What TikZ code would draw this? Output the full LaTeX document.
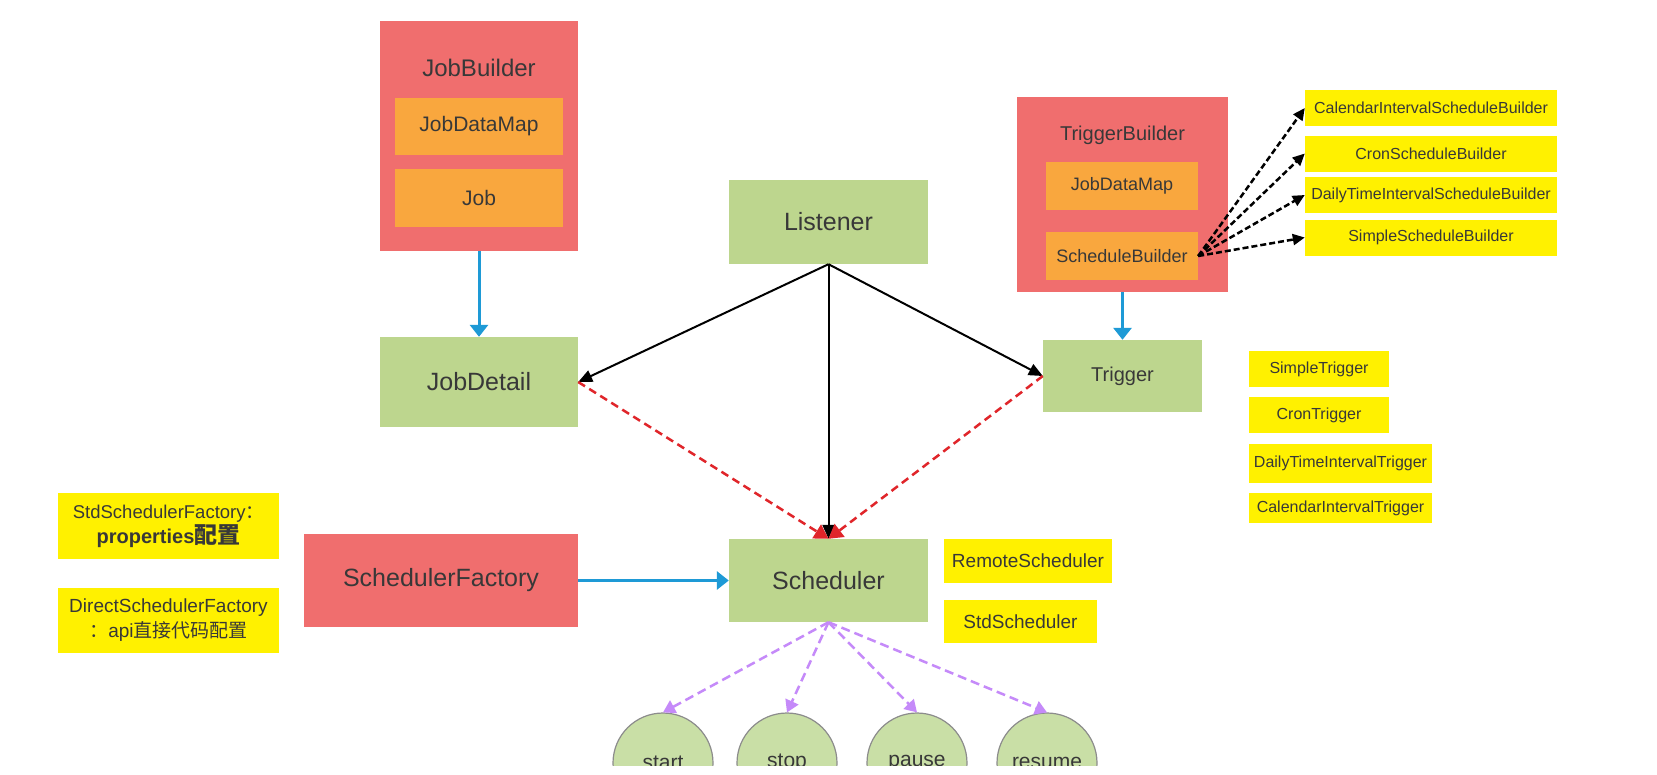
\documentclass[tikz,border=0pt]{standalone}
\usepackage{fontspec}
\setmainfont{Liberation Sans}
\newfontfamily\cjk{Noto Sans CJK SC}
\usetikzlibrary{arrows.meta}
\definecolor{boxred}{HTML}{F06E6E}
\definecolor{boxorange}{HTML}{F9A73E}
\definecolor{boxgreen}{HTML}{BDD68E}
\definecolor{circgreen}{HTML}{C9DFA6}
\definecolor{tagyellow}{HTML}{FFF100}
\definecolor{linkblue}{HTML}{1E9AD6}
\definecolor{linkred}{HTML}{E0252A}
\definecolor{linkpurple}{HTML}{C58AF9}
\definecolor{txt}{HTML}{383838}
\begin{document}
\begin{tikzpicture}[x=1pt, y=-1pt, line join=round,
		sz/.style={font=\fontsize{#1}{#1}\selectfont},
		holder/.style={fill=boxred, text=txt, inner sep=0pt},
		part/.style={fill=boxorange, text=txt, inner sep=0pt},
		core/.style={fill=boxgreen, text=txt, inner sep=0pt, sz=25pt},
		tag/.style={fill=tagyellow, text=txt, inner sep=0pt},
		act/.style={circle, draw=black!45, line width=1.2pt, fill=circgreen, text=txt, minimum size=100pt, inner sep=0pt, sz=21pt},
		flow/.style={draw=linkblue, line width=3pt, -{Triangle[length=12pt,width=18pt]}},
		listen/.style={draw=black, line width=2pt, -{Triangle[length=14pt,width=12pt]}},
		feed/.style={draw=linkred, line width=2.5pt, dash pattern=on 8pt off 5pt, -{Triangle[length=14pt,width=16pt]}},
		pick/.style={draw=black, line width=2.5pt, dash pattern=on 6pt off 3pt, -{Triangle[length=12pt,width=11pt]}},
		call/.style={draw=linkpurple, line width=2.5pt, dash pattern=on 9pt off 5pt, -{Triangle[length=12pt,width=14pt]}}]
		\fill[white] (0,0) rectangle (1657,774);
		\useasboundingbox (0,0) rectangle (1657,774);
		% job side
		\node[holder, minimum width=198pt, minimum height=230pt] (jobbuilder) at (479,136) {};
		\node[text=txt, sz=24pt] (jobbuildertitle) at (479,68) {JobBuilder};
		\node[part, minimum width=168pt, minimum height=57pt, sz=21pt] (jobdatamap) at (479,126.5) {JobDataMap};
		\node[part, minimum width=168pt, minimum height=58pt, sz=21pt] (job) at (479,198) {Job};
		\node[core, minimum width=198pt, minimum height=90pt] (jobdetail) at (479,382) {JobDetail};
		% centre
		\node[core, minimum width=199pt, minimum height=84pt] (listener) at (828.5,222) {Listener};
		\node[core, minimum width=199pt, minimum height=83pt] (scheduler) at (828.5,580.5) {Scheduler};
		\node[holder, minimum width=274pt, minimum height=93pt, sz=25pt] (schedfactory) at (441,580.5) {SchedulerFactory};
		\node[tag, minimum width=168pt, minimum height=44pt, sz=19pt] (remotesched) at (1028,561) {RemoteScheduler};
		\node[tag, minimum width=153pt, minimum height=43pt, sz=19pt] (stdsched) at (1020.5,621.5) {StdScheduler};
		% trigger side
		\node[holder, minimum width=211pt, minimum height=195pt] (triggerbuilder) at (1122.5,194.5) {};
		\node[text=txt, sz=20pt] (triggerbuildertitle) at (1122.5,135) {TriggerBuilder};
		\node[part, minimum width=152pt, minimum height=48pt, sz=18pt] (triggermap) at (1122,186) {JobDataMap};
		\node[part, minimum width=152pt, minimum height=48pt, sz=18pt] (schedbuilder) at (1122,256) {ScheduleBuilder};
		\node[core, minimum width=159pt, minimum height=72pt, sz=20pt] (trigger) at (1122.5,376) {Trigger};
		\foreach \name/\y/\label in {calendarsb/108/CalendarIntervalScheduleBuilder, cronsb/153.5/CronScheduleBuilder, dailysb/195/DailyTimeIntervalScheduleBuilder, simplesb/237.5/SimpleScheduleBuilder}
		\node[tag, minimum width=252pt, minimum height=36pt, sz=16pt] (\name) at (1431,\y) {\label};
		\foreach \name/\x/\y/\w/\h/\label in {simpletrig/1319/369/140/36/SimpleTrigger, crontrig/1319/415/140/36/CronTrigger, dailytrig/1340.5/463.5/183/39/DailyTimeIntervalTrigger, calendartrig/1340.5/508/183/30/CalendarIntervalTrigger}
		\node[tag, minimum width=\w pt, minimum height=\h pt, sz=16pt] (\name) at (\x,\y) {\label};
		% factories
		\node[tag, minimum width=221pt, minimum height=66pt, align=center, font=\fontsize{18.5pt}{25pt}\selectfont] (stdfactory) at (168.5,526)
		{StdSchedulerFactory{\cjk ：}\\{\fontsize{20pt}{25pt}\selectfont\bfseries properties{\cjk\fontsize{23pt}{25pt}\selectfont 配置}}};
		\node[tag, minimum width=221pt, minimum height=65pt, align=center, font=\fontsize{19pt}{25pt}\selectfont] (directfactory) at (168.5,620.5)
		{DirectSchedulerFactory\\{\cjk ：}api{\cjk 直接代码配置}};
		% actions
		\begin{scope}
		\clip (0,0) rectangle (1657,765);
		\foreach \name/\x/\label in {startact/663/start, stopact/787/stop, pauseact/917/pause, resumeact/1047/resume}
		\node[act] (\name) at (\x,763) {\label};
		\end{scope}
		% links
		\draw[flow] (jobbuilder.south) -- (jobdetail.north);
		\draw[flow] (triggerbuilder.south) -- (trigger.north);
		\draw[flow] (schedfactory.east) -- (scheduler.west);
		\draw[listen] (listener.south) -- (jobdetail.east);
		\draw[listen] (listener.south) -- (trigger.west);
		\draw[listen] (listener.south) -- (scheduler.north);
		\draw[feed] (jobdetail.east) -- (scheduler.north);
		\draw[feed] (trigger.west) -- (scheduler.north);
		\foreach \name in {calendarsb, cronsb, dailysb, simplesb}
		\draw[pick] (schedbuilder.east) -- (\name.west);
		\foreach \name in {startact, stopact, pauseact, resumeact}
		\draw[call] (scheduler.south) -- (\name.north);
\end{tikzpicture}
\end{document}
